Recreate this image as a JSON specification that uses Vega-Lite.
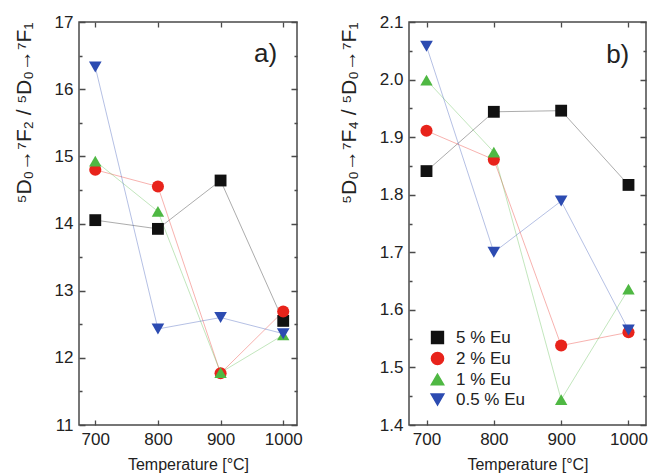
{
  "$schema": "https://vega.github.io/schema/vega-lite/v6.json",
  "background": "white",
  "padding": {"left": 12, "top": 12, "right": 0, "bottom": 5},
  "autosize": {"type": "pad"},
  "bounds": "flush",
  "spacing": 112,
  "config": {
    "font": "Liberation Sans",
    "view": {"stroke": "#4a4a4a", "strokeWidth": 1.5},
    "axis": {
      "labelFont": "Liberation Sans",
      "labelFontSize": 17,
      "labelColor": "#222",
      "labelOverlap": false,
      "titleFont": "Liberation Sans",
      "titleColor": "#222",
      "titleFontWeight": "normal",
      "domain": false,
      "ticks": false,
      "grid": true,
      "gridColor": "#4a4a4a",
      "gridWidth": 1.3,
      "gridOpacity": 1
    },
    "legend": {"labelFont": "Liberation Sans", "labelFontSize": 17, "labelColor": "#222"}
  },
  "datasets": {
    "pts": [
      {"T": 700, "Eu": "5 % Eu", "a": 14.05, "b": 1.841},
      {"T": 800, "Eu": "5 % Eu", "a": 13.92, "b": 1.944},
      {"T": 900, "Eu": "5 % Eu", "a": 14.64, "b": 1.946},
      {"T": 1000, "Eu": "5 % Eu", "a": 12.55, "b": 1.817},
      {"T": 700, "Eu": "2 % Eu", "a": 14.80, "b": 1.911},
      {"T": 800, "Eu": "2 % Eu", "a": 14.55, "b": 1.861},
      {"T": 900, "Eu": "2 % Eu", "a": 11.77, "b": 1.538},
      {"T": 1000, "Eu": "2 % Eu", "a": 12.69, "b": 1.561},
      {"T": 700, "Eu": "1 % Eu", "a": 14.93, "b": 1.999},
      {"T": 800, "Eu": "1 % Eu", "a": 14.18, "b": 1.874},
      {"T": 900, "Eu": "1 % Eu", "a": 11.78, "b": 1.444},
      {"T": 1000, "Eu": "1 % Eu", "a": 12.34, "b": 1.636},
      {"T": 700, "Eu": "0.5 % Eu", "a": 16.33, "b": 2.058},
      {"T": 800, "Eu": "0.5 % Eu", "a": 12.43, "b": 1.700},
      {"T": 900, "Eu": "0.5 % Eu", "a": 12.60, "b": 1.789},
      {"T": 1000, "Eu": "0.5 % Eu", "a": 12.36, "b": 1.565}
    ],
    "lab": [
      {"panel": "a", "T": 972, "v": 16.53, "label": "a)"},
      {"panel": "b", "T": 984, "v": 2.043, "label": "b)"}
    ]
  },
  "resolve": {"scale": {"x": "independent", "y": "independent", "color": "independent", "shape": "independent", "size": "independent"}},
  "hconcat": [
    {
      "width": 218,
      "height": 403,
      "data": {"name": "pts"},
      "layer": [
        {
          "mark": {"type": "line", "strokeWidth": 1, "opacity": 0.35},
          "encoding": {
            "x": {"field": "T", "type": "quantitative", "scale": {"domain": [674, 1022], "nice": false, "zero": false},
              "axis": {"orient": "bottom", "tickCount": 4, "format": "d", "labelPadding": 6, "gridDash": [5, 393],
                "title": "Temperature [°C]", "titleFontSize": 16, "titlePadding": 9}},
            "y": {"field": "a", "type": "quantitative", "scale": {"domain": [11, 17], "nice": false, "zero": false},
              "axis": {"orient": "left", "tickCount": 12,
                "labelExpr": "datum.value % 1 === 0 ? format(datum.value, 'd') : ''",
                "gridDash": {"condition": {"test": "datum.value % 1 !== 0", "value": [3, 212]}, "value": [6, 206]},
                "labelPadding": 6,
                "title": "⁵D₀→⁷F₂ / ⁵D₀→⁷F₁", "titleFontSize": 21, "titleAnchor": "end", "titlePadding": 20}},
            "color": {"field": "Eu", "type": "nominal",
              "scale": {"domain": ["5 % Eu", "2 % Eu", "1 % Eu", "0.5 % Eu"], "range": ["#111111", "#e8231b", "#4fb843", "#2c4bb1"]}, "legend": null}
          }
        },
        {
          "mark": {"type": "point", "filled": true, "opacity": 1},
          "encoding": {
            "x": {"field": "T", "type": "quantitative"},
            "y": {"field": "a", "type": "quantitative"},
            "color": {"field": "Eu", "type": "nominal", "legend": null},
            "shape": {"field": "Eu", "type": "nominal", "scale": {"domain": ["5 % Eu", "2 % Eu", "1 % Eu", "0.5 % Eu"], "range": ["square", "circle", "triangle-up", "triangle-down"]}, "legend": null},
            "size": {"field": "Eu", "type": "nominal", "scale": {"domain": ["5 % Eu", "2 % Eu", "1 % Eu", "0.5 % Eu"], "range": [140, 160, 210, 210]}, "legend": null}
          }
        },
        {
          "data": {"name": "lab"},
          "transform": [{"filter": "datum.panel == 'a'"}],
          "mark": {"type": "text", "fontSize": 26, "font": "Liberation Sans", "color": "#222"},
          "encoding": {
            "x": {"field": "T", "type": "quantitative"},
            "y": {"field": "v", "type": "quantitative"},
            "text": {"field": "label"}
          }
        }
      ]
    },
    {
      "width": 237,
      "height": 403,
      "data": {"name": "pts"},
      "layer": [
        {
          "mark": {"type": "line", "strokeWidth": 1, "opacity": 0.35},
          "encoding": {
            "x": {"field": "T", "type": "quantitative", "scale": {"domain": [674, 1026], "nice": false, "zero": false},
              "axis": {"orient": "bottom", "tickCount": 4, "format": "d", "labelPadding": 6, "gridDash": [5, 393],
                "title": "Temperature [°C]", "titleFontSize": 16, "titlePadding": 9}},
            "y": {"field": "b", "type": "quantitative", "scale": {"domain": [1.4, 2.1], "nice": false, "zero": false},
              "axis": {"orient": "left", "tickCount": 14,
                "labelExpr": "abs(round(datum.value * 10) - datum.value * 10) < 0.01 ? format(datum.value, '.1f') : ''",
                "gridDash": {"condition": {"test": "abs(round(datum.value * 10) - datum.value * 10) > 0.01", "value": [3, 231]}, "value": [6, 225]},
                "labelPadding": 6,
                "title": "⁵D₀→⁷F₄ / ⁵D₀→⁷F₁", "titleFontSize": 21, "titleAnchor": "end", "titlePadding": 20}},
            "color": {"field": "Eu", "type": "nominal",
              "scale": {"domain": ["5 % Eu", "2 % Eu", "1 % Eu", "0.5 % Eu"], "range": ["#111111", "#e8231b", "#4fb843", "#2c4bb1"]},
              "legend": {"orient": "none", "legendX": 20, "legendY": 307, "title": null, "symbolOpacity": 1, "labelOffset": 10, "rowPadding": 2, "labelFontSize": 17}}
          }
        },
        {
          "mark": {"type": "point", "filled": true, "opacity": 1},
          "encoding": {
            "x": {"field": "T", "type": "quantitative"},
            "y": {"field": "b", "type": "quantitative"},
            "color": {"field": "Eu", "type": "nominal",
              "legend": {"orient": "none", "legendX": 20, "legendY": 307, "title": null, "symbolOpacity": 1, "labelOffset": 10, "rowPadding": 2, "labelFontSize": 17}},
            "shape": {"field": "Eu", "type": "nominal", "scale": {"domain": ["5 % Eu", "2 % Eu", "1 % Eu", "0.5 % Eu"], "range": ["square", "circle", "triangle-up", "triangle-down"]},
              "legend": {"orient": "none", "legendX": 20, "legendY": 307, "title": null, "symbolOpacity": 1, "labelOffset": 10, "rowPadding": 2, "labelFontSize": 17}},
            "size": {"field": "Eu", "type": "nominal", "scale": {"domain": ["5 % Eu", "2 % Eu", "1 % Eu", "0.5 % Eu"], "range": [140, 160, 210, 210]},
              "legend": {"orient": "none", "legendX": 20, "legendY": 307, "title": null, "symbolOpacity": 1, "labelOffset": 10, "rowPadding": 2, "labelFontSize": 17}}
          }
        },
        {
          "data": {"name": "lab"},
          "transform": [{"filter": "datum.panel == 'b'"}],
          "mark": {"type": "text", "fontSize": 26, "font": "Liberation Sans", "color": "#222"},
          "encoding": {
            "x": {"field": "T", "type": "quantitative"},
            "y": {"field": "v", "type": "quantitative"},
            "text": {"field": "label"}
          }
        }
      ]
    }
  ]
}
